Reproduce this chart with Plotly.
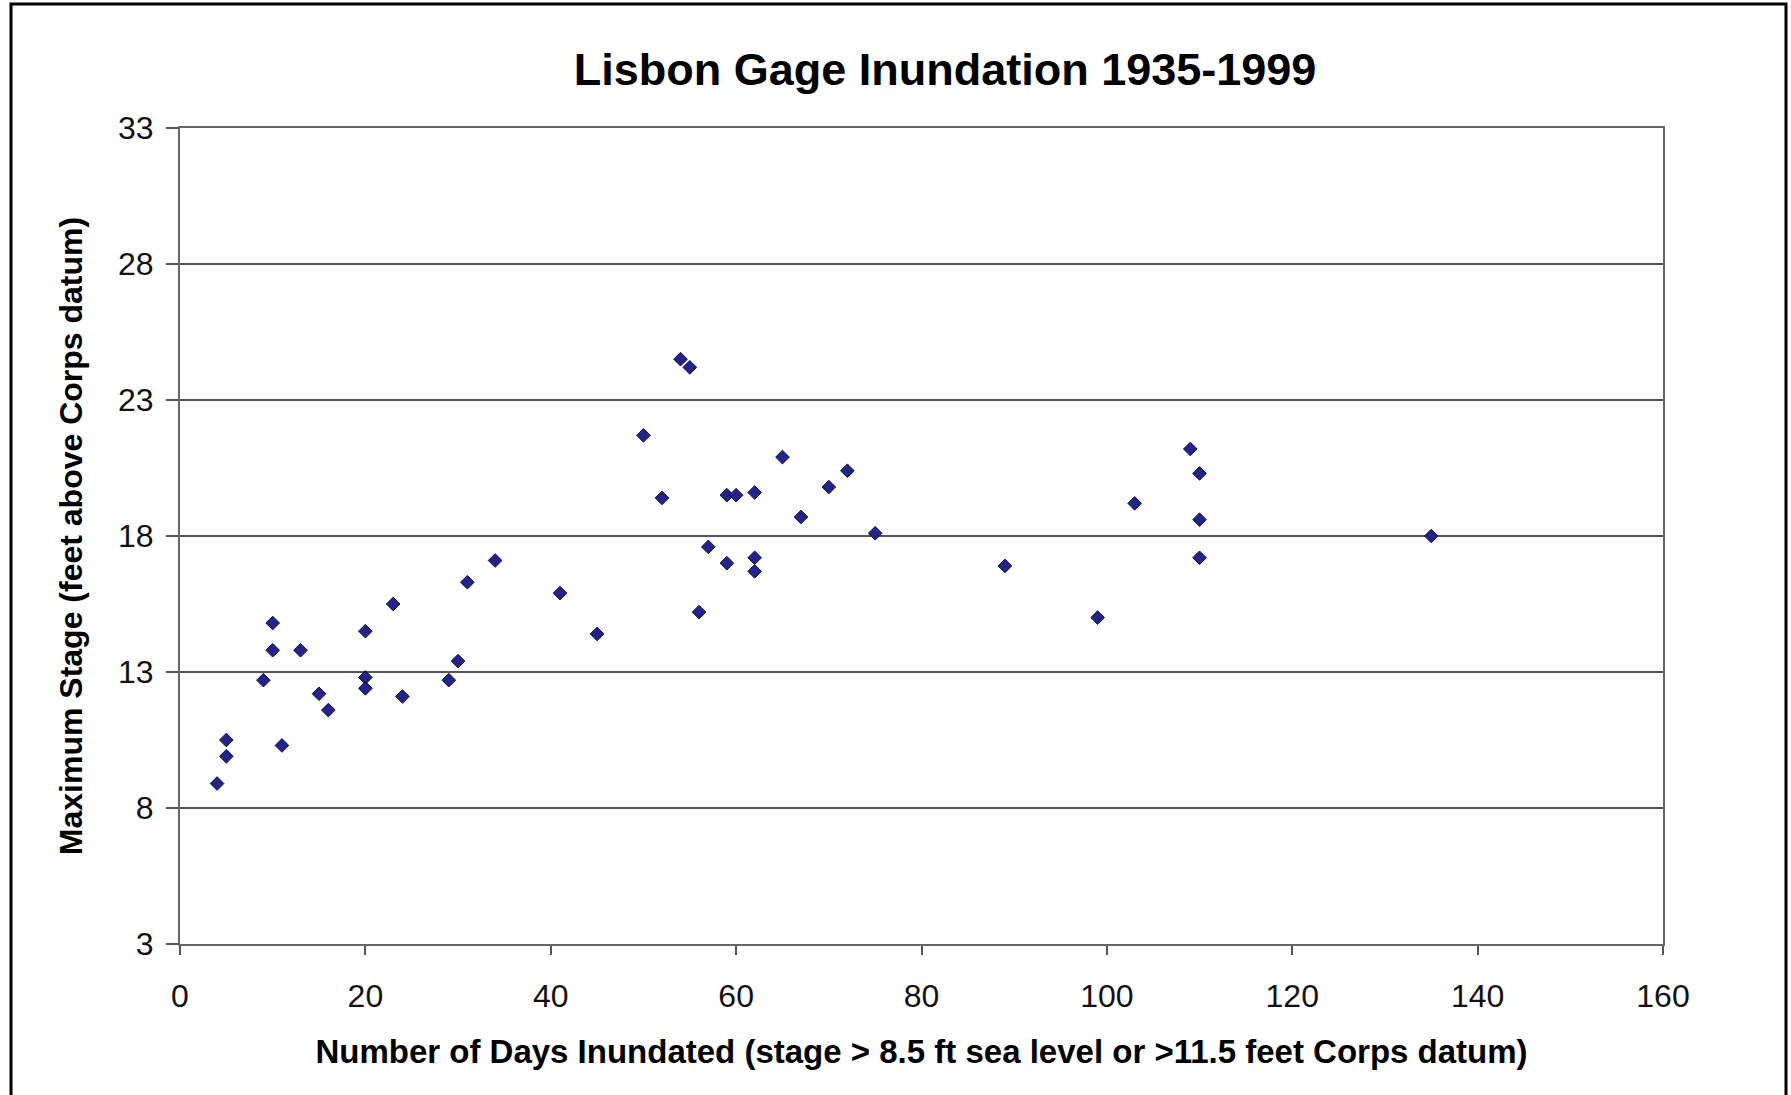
import plotly.graph_objects as go

# Data
days_inundated = [4, 5, 5, 9, 10, 10, 11, 13, 15, 16, 20, 20, 20, 23, 24, 29, 30, 31, 34, 41,
                  45, 50, 52, 54, 55, 56, 57, 59, 59, 60, 62, 62, 62, 65, 67, 70, 72, 75, 89, 99,
                  103, 109, 110, 110, 110, 135]
max_stage = [8.9, 10.5, 9.9, 12.7, 14.8, 13.8, 10.3, 13.8, 12.2, 11.6, 14.5, 12.8, 12.4, 15.5,
             12.1, 12.7, 13.4, 16.3, 17.1, 15.9, 14.4, 21.7, 19.4, 24.5, 24.2, 15.2, 17.6, 19.5,
             17.0, 19.5, 19.6, 17.2, 16.7, 20.9, 18.7, 19.8, 20.4, 18.1, 16.9, 15.0, 19.2, 21.2,
             20.3, 18.6, 17.2, 18.0]

x_ticks = [0, 20, 40, 60, 80, 100, 120, 140, 160]
y_ticks = [3, 8, 13, 18, 23, 28, 33]

title_text = "Lisbon Gage Inundation 1935-1999"
x_title = "Number of Days Inundated (stage > 8.5 ft sea level or >11.5 feet Corps datum)"
y_title = "Maximum Stage (feet above Corps datum)"

FONT = "Liberation Sans, Arial, sans-serif"
W, H = 1791, 1095
L, R, T, B = 180, 128, 128, 151
pw, ph = W - L - R, H - T - B

fig = go.Figure()
fig.add_trace(go.Scatter(
    x=days_inundated, y=max_stage, mode="markers",
    marker=dict(symbol="diamond", size=10.5, color="#23238a",
                line=dict(color="#0f0f50", width=1)),
    showlegend=False,
))

def px_x(p):
    return (p - L) / pw

def px_y(p):
    return 1 - (p - T) / ph

fig.update_layout(
    width=W, height=H,
    margin=dict(l=L, r=R, t=T, b=B, pad=0),
    paper_bgcolor="white", plot_bgcolor="white",
    font=dict(family=FONT, color="#111111"),
    title=dict(text="<b>" + title_text + "</b>", font=dict(size=45, color="#000000", family=FONT),
               xref="container", yref="container", x=945 / W, xanchor="center",
               y=1 - 69 / H, yanchor="middle"),
    xaxis=dict(range=[0, 160], tickvals=x_ticks, ticks="outside", ticklen=9, tickwidth=2,
               tickcolor="#555555", showgrid=False, zeroline=False,
               showline=True, linecolor="#666666", linewidth=2, mirror=True,
               tickfont=dict(size=32, color="#111111"), ticklabelstandoff=14,
               title=dict(text="<b>" + x_title + "</b>", font=dict(size=33, color="#000000"),
                          standoff=26)),
    yaxis=dict(range=[3, 33], tickvals=y_ticks, ticks="outside", ticklen=12, tickwidth=2,
               tickcolor="#555555", showgrid=True, gridcolor="#555555", gridwidth=2,
               zeroline=False, showline=True, linecolor="#666666", linewidth=2, mirror=True,
               tickfont=dict(size=32, color="#111111"), ticklabelstandoff=6,
               title=dict(text="<b>" + y_title + "</b>", font=dict(size=32, color="#000000"),
                          standoff=26)),
    shapes=[dict(type="rect", xref="paper", yref="paper",
                 x0=px_x(11), x1=px_x(1786), y0=px_y(1110), y1=px_y(4),
                 line=dict(color="#000000", width=3), fillcolor="rgba(0,0,0,0)", layer="above")],
)

fig.write_html("out.html", config={"displayModeBar": False},
               post_script="document.body.style.margin='0';")
